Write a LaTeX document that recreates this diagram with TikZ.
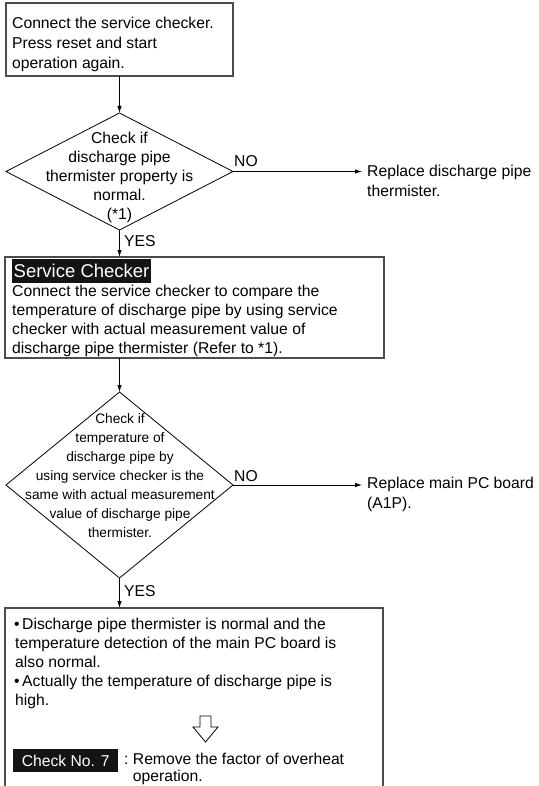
\documentclass[tikz,border=0pt]{standalone}
\usepackage{fontspec}
\setmainfont{Liberation Sans}
\usetikzlibrary{shapes.geometric,arrows.meta}
\newcommand\fA{\fontsize{15.7}{20}\selectfont}
\newcommand\fB{\fontsize{15.7}{19}\selectfont}
\newcommand\fC{\fontsize{13.7}{19}\selectfont}
\newcommand\fD{\fontsize{18.5}{22}\selectfont}
\newcommand\fE{\fontsize{15.7}{17}\selectfont}
\newcommand\topA{\rule{0pt}{12pt}}
\newcommand\topC{\rule{0pt}{10.4pt}}
\begin{document}
\begin{tikzpicture}[x=1pt,y=-1pt,
  box/.style={draw=black!70, line width=1.1pt, inner sep=0pt, outer sep=0pt, anchor=north west},
  dia/.style={diamond, draw=black, line width=0.8pt, inner sep=0pt, outer sep=0pt},
  txt/.style={inner sep=0pt, anchor=north west, align=left},
  lbl/.style={inner sep=0pt, anchor=base west, font=\fB},
  conn/.style={line width=0.8pt, -{Latex[length=7pt,width=4.5pt]}},
  tag/.style={fill=black!92, text=white, inner ysep=0pt, anchor=north west}
]
\useasboundingbox (0,0) rectangle (538,786);
\begin{scope}
\clip (0,0) rectangle (538,786);

% box 1
\node[box, minimum width=227, minimum height=73] (b1) at (6,3) {};
\node[txt, font=\fA] (t1) at (12,16.5) {\topA Connect the service checker.\\Press reset and start\\operation again.};

% diamond 1
\node[dia, minimum width=227, minimum height=117] (d1) at (119.5,171.5) {};
\node[txt, anchor=north, align=center, font=\fB] (t2) at (119.5,131.5) {\topA Check if\\discharge pipe\\thermister property is\\normal.\\(*1)};
\node[lbl] (no1) at (234,167) {NO};
\node[lbl] (yes1) at (124,246) {YES};
\node[txt, font=\fA] (r1) at (367,164.5) {\topA Replace discharge pipe\\thermister.};

% box 2
\node[box, minimum width=379, minimum height=101] (b2) at (5,257) {};
\node[tag, font=\fD, inner xsep=1.5pt, minimum height=24] (sc) at (12,259) {Service Checker};
\node[txt, font=\fB] (t3) at (12,284.5) {\topA Connect the service checker to compare the\\temperature of discharge pipe by using service\\checker with actual measurement value of\\discharge pipe thermister (Refer to *1).};

% diamond 2
\node[dia, minimum width=227, minimum height=186] (d2) at (119.5,485) {};
\node[txt, anchor=north, align=center, font=\fC] (t4) at (120,412.8) {\topC Check if\\temperature of\\discharge pipe by\\using service checker is the\\same with actual measurement\\value of discharge pipe\\thermister.};
\node[lbl] (no2) at (234,481) {NO};
\node[lbl] (yes2) at (124,596) {YES};
\node[txt, font=\fA] (r2) at (367,476.5) {\topA Replace main PC board\\(A1P).};

% box 3
\node[box, minimum width=378, minimum height=220] (b3) at (5,608) {};
\node[txt, font=\fB] (t5) at (14,617.5) {\topA \textbullet\hspace{2.5pt}Discharge pipe thermister is normal and the\\\hspace{1pt}temperature detection of the main PC board is\\\hspace{1pt}also normal.\\\textbullet\hspace{2.5pt}Actually the temperature of discharge pipe is\\\hspace{1pt}high.};
\draw[line width=0.8pt, line join=miter] (200,716) -- (211,716) -- (211,727) -- (218,727) -- (205.5,742) -- (193,727) -- (200,727) -- cycle;
\node[tag, font=\fA, inner xsep=0pt, minimum width=105, minimum height=23] (ck) at (13,749) {Check No. 7};
\node[txt, font=\fE] (rm) at (124,752.5) {\topA :\ Remove the factor of overheat\\\phantom{:\ }operation.};

% connectors
\draw[conn] (b1.south -| d1.north) -- (d1.north);
\draw[conn] (d1.east) -- ([xshift=-5pt]d1.east -| r1.west);
\draw[conn] (d1.south) -- (d1.south |- b2.north);
\draw[conn] (b2.south -| d2.north) -- (d2.north);
\draw[conn] (d2.east) -- ([xshift=-5pt]d2.east -| r2.west);
\draw[conn] (d2.south) -- (d2.south |- b3.north);
\end{scope}
\end{tikzpicture}
\end{document}
